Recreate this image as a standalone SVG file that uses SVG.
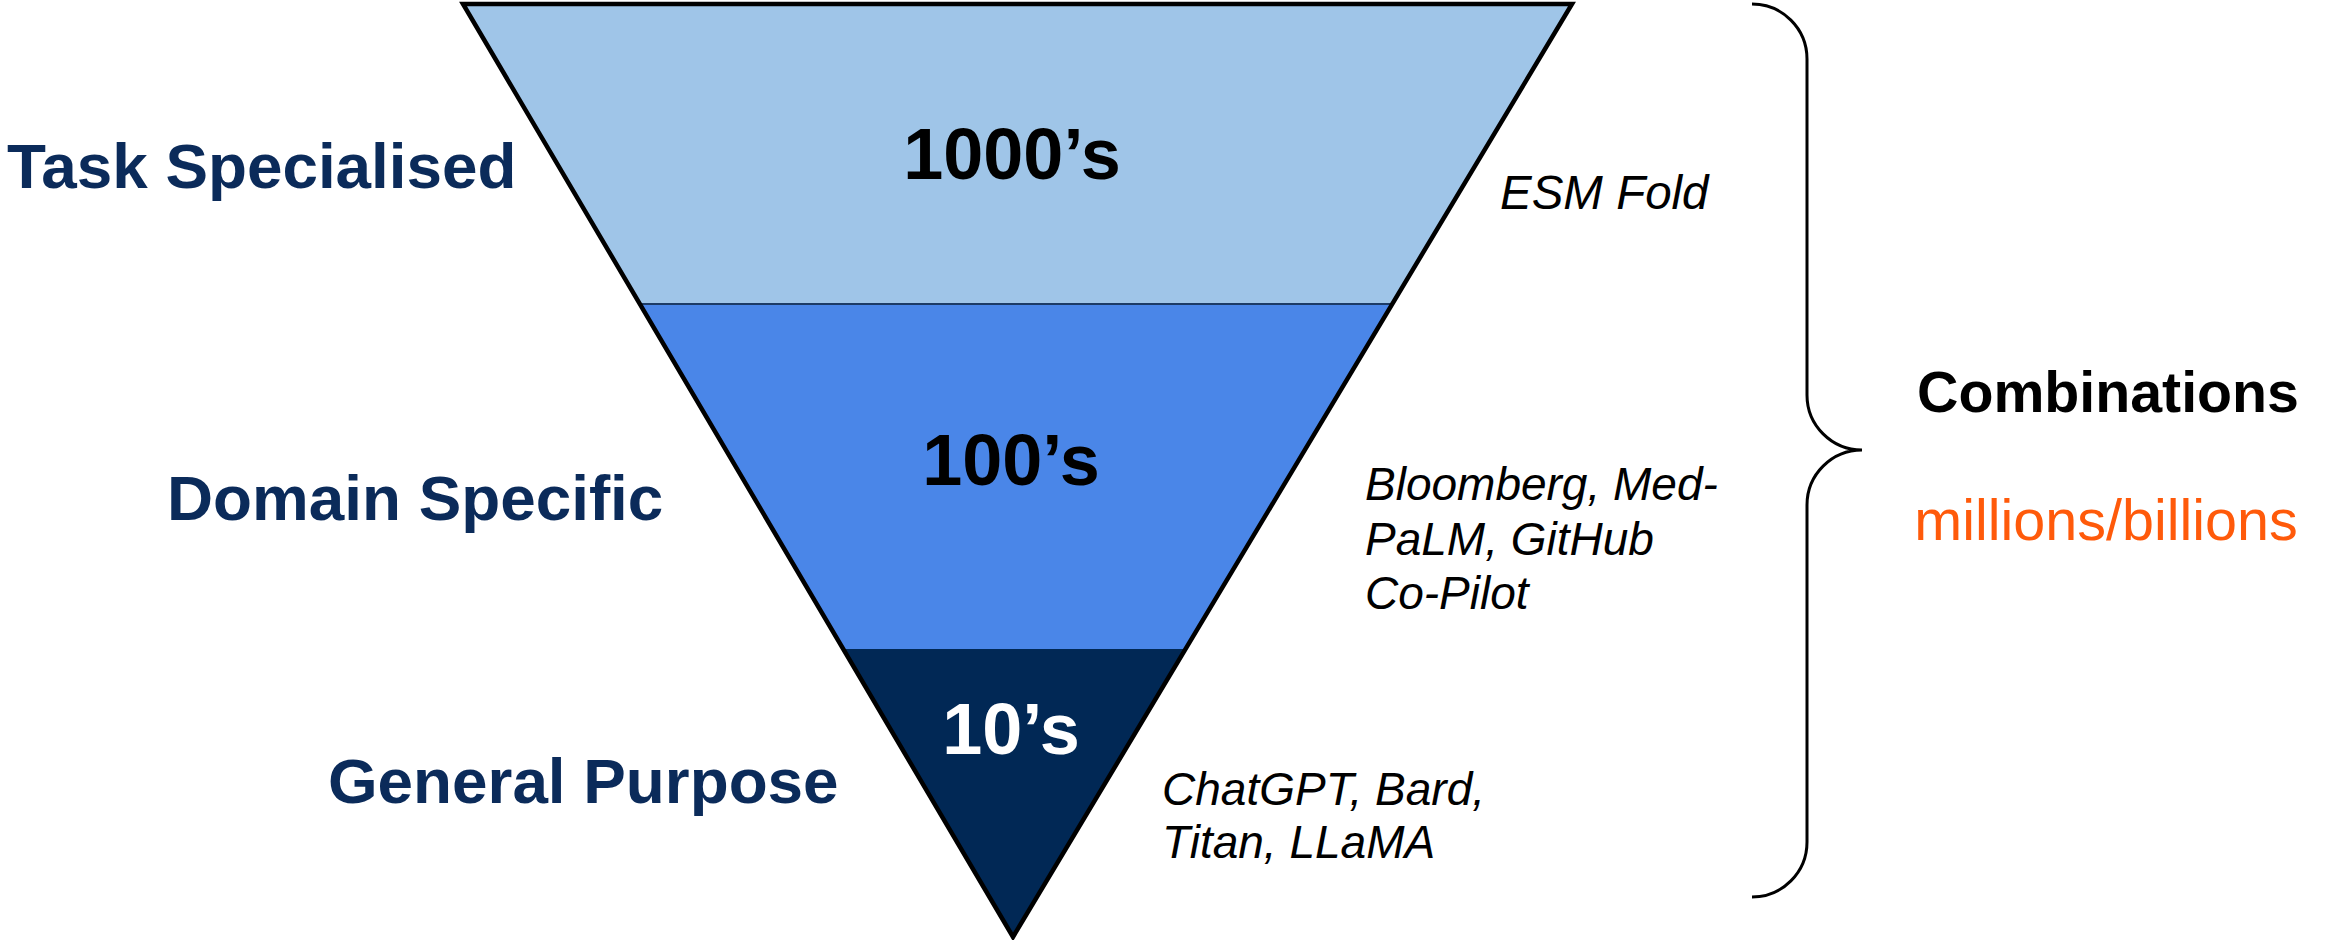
<svg xmlns="http://www.w3.org/2000/svg" width="2341" height="940" viewBox="0 0 2341 940">
<style>
.lbl{font-family:"Liberation Sans",Arial,sans-serif;font-weight:bold;font-size:63.8px;fill:#0b2b5a}
.num{font-family:"Liberation Sans",Arial,sans-serif;font-weight:bold;font-size:72px;text-anchor:middle}
.ex{font-family:"Liberation Sans",Arial,sans-serif;font-style:italic;font-size:46px;fill:#000}
</style>
<rect width="2341" height="940" fill="#fff"/>
<g id="triangle">
<polygon points="463,4 1572,4 1392,304 640,304" fill="#9fc5e8"/>
<polygon points="640,304 1392,304 1186,649 843,649" fill="#4a86e8"/>
<polygon points="843,649 1186,649 1013,937" fill="#012855"/>
<line x1="640" y1="304" x2="1392" y2="304" stroke="#1c3b66" stroke-width="2"/>
<polygon points="463,4 1572,4 1013,937" fill="none" stroke="#000" stroke-width="4.5" stroke-linejoin="miter"/>
</g>
<g id="tier-task">
<text class="lbl" x="7" y="188">Task Specialised</text>
<text class="num" x="1012" y="179" fill="#000">1000’s</text>
<text class="ex" x="1500" y="209" style="font-size:47.5px">ESM Fold</text>
</g>
<g id="tier-domain">
<text class="lbl" x="167" y="520">Domain Specific</text>
<text class="num" x="1011" y="485" fill="#000">100’s</text>
<text class="ex" x="1365" y="500">Bloomberg, Med-</text>
<text class="ex" x="1365" y="555">PaLM, GitHub</text>
<text class="ex" x="1365" y="609">Co-Pilot</text>
</g>
<g id="tier-general">
<text class="lbl" x="328" y="803">General Purpose</text>
<text class="num" x="1011" y="754" fill="#fff">10’s</text>
<text class="ex" x="1162" y="805">ChatGPT, Bard,</text>
<text class="ex" x="1162" y="858">Titan, LLaMA</text>
</g>
<g id="connectors">
<path d="M1752,4 A55,55 0 0 1 1807,59 L1807,395 A55,55 0 0 0 1862,450 A55,55 0 0 0 1807,505 L1807,842 A55,55 0 0 1 1752,897" fill="none" stroke="#000" stroke-width="3"/>
</g>
<g id="combinations">
<text x="2108" y="412" text-anchor="middle" style="font-family:'Liberation Sans',Arial,sans-serif;font-weight:bold;font-size:57.3px" fill="#000">Combinations</text>
<text x="2106" y="540" text-anchor="middle" style="font-family:'Liberation Sans',Arial,sans-serif;font-size:57.5px" fill="#ff5a0a">millions/billions</text>
</g>
</svg>
